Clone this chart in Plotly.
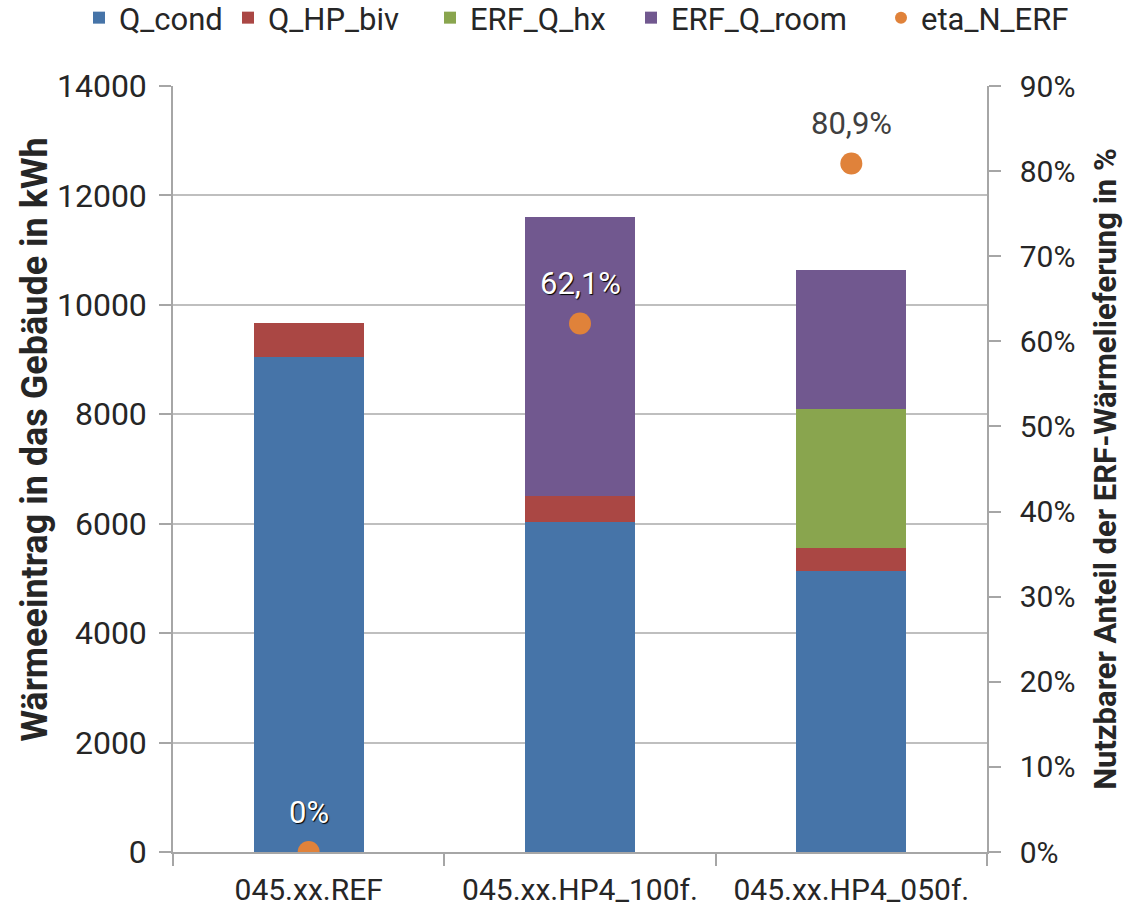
import plotly.graph_objects as go

# Scenarios and heat contributions (kWh)
categories = ["045.xx.REF", "045.xx.HP4_100f.", "045.xx.HP4_050f."]
q_cond = [9047, 6031, 5136]
q_hp_biv = [621, 475, 420]
erf_q_hx = [0, 0, 2541]
erf_q_room = [0, 5099, 2541]

# Usable share of ERF heat delivery (fraction)
eta_n_erf = [0.0, 0.621, 0.809]

FONT = "Roboto, Liberation Sans, sans-serif"
TXT = "#262626"

# plot area in pixels (used to place the legend entries)
ML, MR, MT, MB = 173, 137, 86, 60
W, H = 1124, 912
PW, PH = W - ML - MR, H - MT - MB

def pct_label(v):
    s = f"{v * 100:.1f}".replace(".", ",")
    if s.endswith(",0"):
        s = s[:-2]
    return s + "%"

fig = go.Figure()

bar_series = [
    ("Q_cond", q_cond, "#4674A8"),
    ("Q_HP_biv", q_hp_biv, "#AA4744"),
    ("ERF_Q_hx", erf_q_hx, "#89A54E"),
    ("ERF_Q_room", erf_q_room, "#71588F"),
]
legend_ids = ["legend", "legend2", "legend3", "legend4", "legend5"]
legend_left_px = [79, 228, 430, 631, 881]

for (name, vals, col), lid in zip(bar_series, legend_ids):
    fig.add_trace(go.Bar(
        x=categories, y=vals, name=name, legend=lid,
        marker=dict(color=col, line=dict(width=0)),
        width=0.405,
    ))

fig.add_trace(go.Scatter(
    x=categories, y=eta_n_erf, name="eta_N_ERF", yaxis="y2", legend=legend_ids[4],
    mode="markers",
    marker=dict(color="#E0823A", size=22, line=dict(width=0)),
))

# Value labels for the efficiency points
label_colors = ["white", "white", "#404040"]
label_shadow = ["1px 1px 1px #000", "1px 1px 1px #000", "none"]
for c, v, lc, sh in zip(categories, eta_n_erf, label_colors, label_shadow):
    fig.add_annotation(
        x=c, y=v, yref="y2", text=pct_label(v), showarrow=False,
        yshift=40, font=dict(family=FONT, size=31, color=lc, shadow=sh),
    )

# Left axis title
fig.add_annotation(
    text="<b>Wärmeeintrag in das Gebäude in kWh</b>",
    xref="paper", yref="paper", x=-0.169, y=0.539,
    xanchor="center", yanchor="middle", textangle=-90, showarrow=False,
    font=dict(family=FONT, size=36, color=TXT),
)

legend_style = dict(
    orientation="h", xref="paper", yref="paper",
    xanchor="left", y=(PH + MT + 9) / PH, yanchor="top",
    font=dict(family=FONT, size=31, color=TXT),
    itemsizing="constant", itemwidth=30, bgcolor="rgba(0,0,0,0)",
)
legends = {}
for lid, px in zip(legend_ids, legend_left_px):
    legends[lid] = dict(legend_style, x=(px - ML) / PW)

fig.update_layout(
    width=W, height=H,
    margin=dict(l=ML, r=MR, t=MT, b=MB, autoexpand=False),
    paper_bgcolor="white", plot_bgcolor="white",
    barmode="stack", bargap=0.6,
    separators=",.",
    font=dict(family=FONT, size=30, color=TXT),
    showlegend=True,
    **legends,
    xaxis=dict(
        showline=True, linecolor="#A6A6A6", linewidth=1.5,
        ticks="outside", tickson="boundaries", ticklen=12, tickcolor="#A6A6A6",
        tickwidth=1.5, showgrid=False, ticklabelstandoff=10,
        tickfont=dict(family=FONT, size=30, color=TXT),
    ),
    yaxis=dict(
        range=[0, 14000], dtick=2000, tickformat="d",
        showline=True, linecolor="#A6A6A6", linewidth=1.5,
        ticks="outside", ticklen=12, tickcolor="#A6A6A6", tickwidth=1.5,
        showgrid=True, gridcolor="#BFBFBF", gridwidth=1.5,
        zeroline=False, ticklabelstandoff=6,
        tickfont=dict(family=FONT, size=32, color=TXT),
    ),
    yaxis2=dict(
        range=[0, 0.9], dtick=0.1, tickformat=".0%",
        overlaying="y", side="right",
        showline=True, linecolor="#A6A6A6", linewidth=1.5,
        ticks="outside", ticklen=12, tickcolor="#A6A6A6", tickwidth=1.5,
        showgrid=False, zeroline=False, ticklabelstandoff=13,
        tickfont=dict(family=FONT, size=30, color=TXT),
        title=dict(text="<b>Nutzbarer Anteil der ERF-Wärmelieferung in %</b>",
                   font=dict(family=FONT, size=31, color=TXT), standoff=23),
    ),
)

fig.write_html("out.html")
